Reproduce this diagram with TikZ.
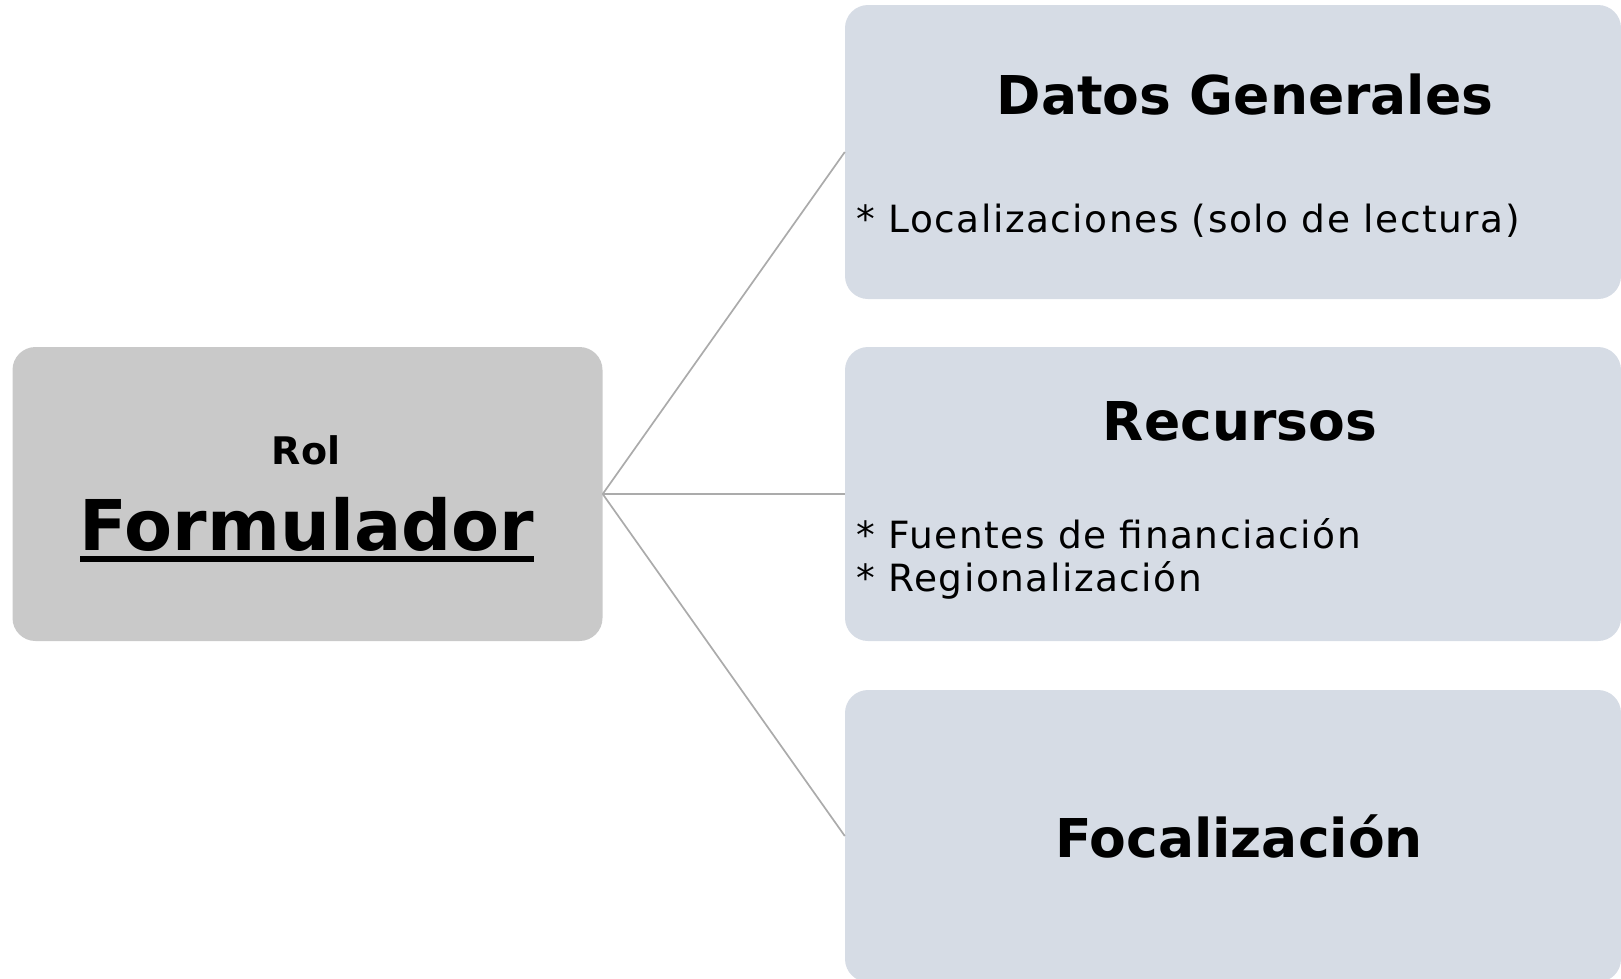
\documentclass[tikz,border=0pt]{standalone}
\usepackage{fontspec}
\setmainfont{DejaVu Sans}
\begin{document}
\begin{tikzpicture}[x=1pt,y=-1pt,
  rolebox/.style={rounded corners=23pt, fill=roleGray, draw=none, inner sep=0pt, minimum width=590pt, minimum height=294pt},
  topicbox/.style={rounded corners=23pt, fill=topicBlue, draw=none, inner sep=0pt, minimum width=776pt},
  head/.style={inner sep=0pt, anchor=base, font=\fontsize{53.5}{58}\selectfont\bfseries},
  body/.style={inner sep=0pt, anchor=base west, align=left, font=\fontsize{37.5}{43}\selectfont\addfontfeatures{LetterSpace=4}},
  link/.style={draw=linkGray, line width=1.7pt}
]
\definecolor{roleGray}{HTML}{C9C9C9}
\definecolor{topicBlue}{HTML}{D6DCE5}
\definecolor{linkGray}{HTML}{ABABAB}
\useasboundingbox (0,0) rectangle (1621,978);
\clip (0,0) rectangle (1621,978);

\node[rolebox] (L) at (307.5,494) {};
\node[topicbox, minimum height=294pt] (R1) at (1233,152) {};
\node[topicbox, minimum height=294pt] (R2) at (1233,494) {};
\node[topicbox, minimum height=292pt] (R3) at (1233,836) {};

\draw[link] (L.east) -- (R1.west);
\draw[link] (L.east) -- (R2.west);
\draw[link] (L.east) -- (R3.west);

\node[inner sep=0pt, anchor=base, font=\fontsize{38}{40}\selectfont\bfseries] (rol) at (306,464) {Rol};
\node[inner sep=0pt, anchor=base, font=\fontsize{70}{76}\selectfont\bfseries] (F) at (307,550) {Formulador};
\fill ([yshift=-6pt]F.base west) rectangle ([yshift=-12pt]F.base east);

\node[head] (h1) at (1245,114) {Datos Generales};
\node[body] (b1) at (856,232) {* Localizaciones (solo de lectura)};

\node[head] (h2) at (1240,440) {Recursos};
\node[body] (b2) at (856,548) {* Fuentes de financiación};
\node[body] (b3) at (856,591) {* Regionalización};

\node[head] (h3) at (1239,857) {Focalización};
\end{tikzpicture}
\end{document}
